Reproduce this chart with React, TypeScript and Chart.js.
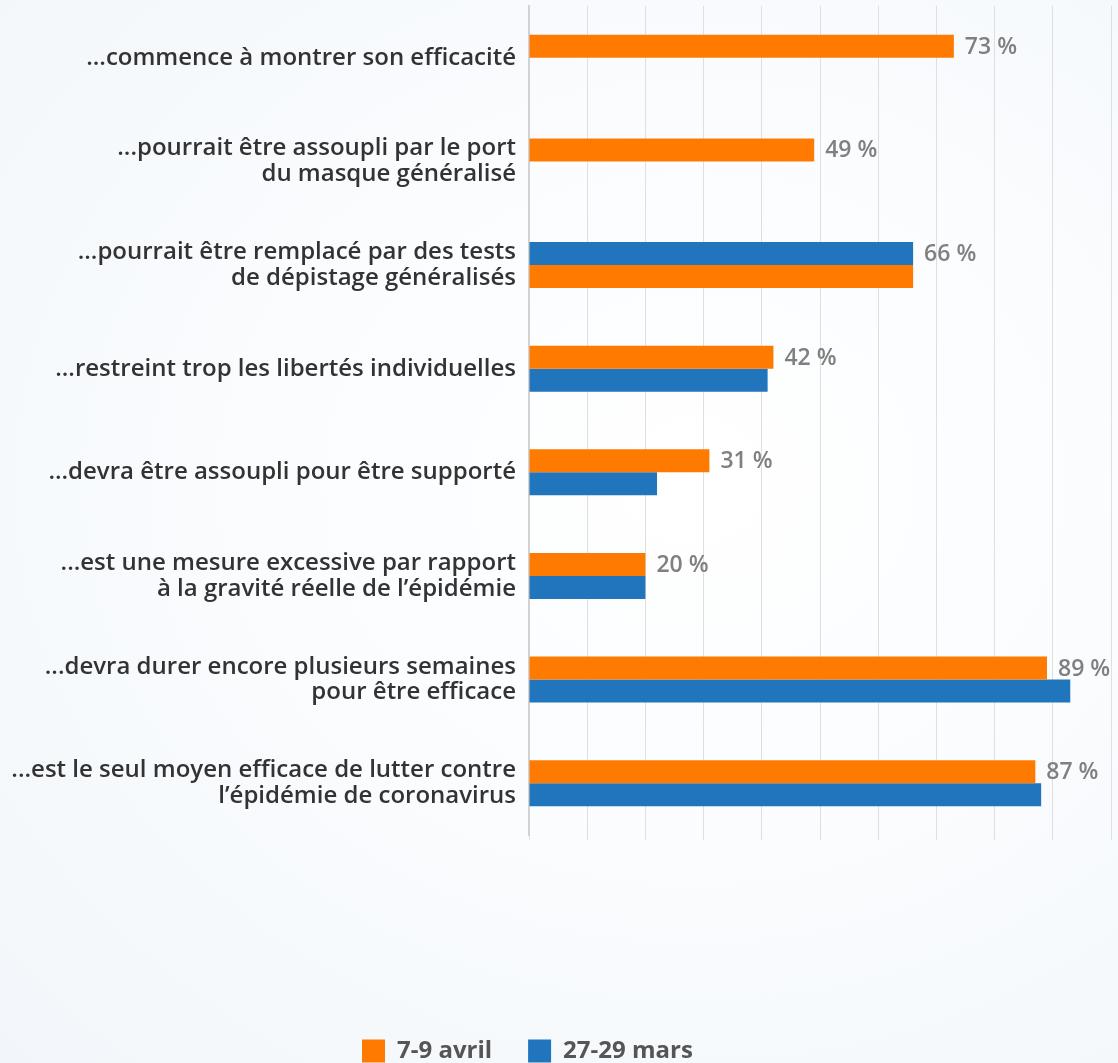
import React, { useEffect, useRef } from "react";
import { Chart, registerables } from "chart.js";

Chart.register(...registerables);

const categories: string[][] = [
  ["...commence à montrer son efficacité"],
  ["...pourrait être assoupli par le port", "du masque généralisé"],
  ["...pourrait être remplacé par des tests", "de dépistage généralisés"],
  ["...restreint trop les libertés individuelles"],
  ["...devra être assoupli pour être supporté"],
  ["...est une mesure excessive par rapport", "à la gravité réelle de l’épidémie"],
  ["...devra durer encore plusieurs semaines", "pour être efficace"],
  ["...est le seul moyen efficace de lutter contre", "l’épidémie de coronavirus"],
];

const seriesAvril = "7-9 avril";
const seriesMars = "27-29 mars";

const avril: (number | null)[] = [73, 49, 66, 42, 31, 20, 89, 87];
const mars: (number | null)[] = [null, null, 66, 41, 22, 20, 93, 88];

// In the source, the third category shows the "mars" bar on top
const topIsMars: boolean[] = [false, false, true, false, false, false, false, false];

const xTicks = { min: 0, max: 100, step: 10 };

const ORANGE = "#FF7A00";
const BLUE = "#2175BD";
const FONT = "'Open Sans', 'Noto Sans', sans-serif";
const LEGEND_X = 362;

const valueLabels = {
  id: "valueLabels",
  afterDatasetsDraw(chart: any) {
    const ctx = chart.ctx;
    const meta = chart.getDatasetMeta(0);
    const data = chart.data.datasets[0].data;
    ctx.save();
    ctx.font = `600 23px ${FONT}`;
    ctx.fillStyle = "#808080";
    ctx.textAlign = "left";
    ctx.textBaseline = "middle";
    meta.data.forEach((bar: any, i: number) => {
      const v = data[i];
      if (v == null) return;
      ctx.fillText(`${v} %`, bar.x + 11, bar.y + 1);
    });
    ctx.restore();
  },
};

const legendShift = {
  id: "legendShift",
  afterLayout(chart: any) {
    const lg = chart.legend;
    if (!lg || !lg.lineWidths) return;
    const p = lg.options.labels.padding;
    const cur = (lg.left + p + lg.right - lg.lineWidths[0]) / 2;
    const dx = LEGEND_X - cur;
    lg.left += dx;
    lg.right += dx;
  },
};

export default function App() {
  const ref = useRef<HTMLCanvasElement | null>(null);

  useEffect(() => {
    if (!ref.current) return;
    const topData = categories.map((_, i) => (topIsMars[i] ? mars[i] : avril[i]));
    const bottomData = categories.map((_, i) => (topIsMars[i] ? avril[i] : mars[i]));
    const topColors = categories.map((_, i) => (topIsMars[i] ? BLUE : ORANGE));
    const bottomColors = categories.map((_, i) => (topIsMars[i] ? ORANGE : BLUE));

    const chart = new Chart(ref.current, {
      type: "bar",
      data: {
        labels: categories,
        datasets: [
          {
            label: seriesAvril,
            data: topData,
            backgroundColor: topColors,
            borderWidth: 0,
            barPercentage: 1,
            categoryPercentage: 0.444,
          },
          {
            label: seriesMars,
            data: bottomData,
            backgroundColor: bottomColors,
            borderWidth: 0,
            barPercentage: 1,
            categoryPercentage: 0.444,
          },
        ],
      },
      options: {
        indexAxis: "y",
        animation: false,
        responsive: false,
        maintainAspectRatio: false,
        layout: { padding: { top: 6, right: 7, left: 0, bottom: 0 } },
        scales: {
          x: {
            min: xTicks.min,
            max: xTicks.max,
            ticks: { display: false, stepSize: xTicks.step },
            grid: { color: "#dfdfdf", lineWidth: 1, tickLength: 5, drawTicks: true },
            border: { display: false },
            afterFit: (scale: any) => {
              scale.height = 168;
            },
          },
          y: {
            grid: { display: false, drawTicks: false },
            border: { display: true, color: "#d2d2d2", width: 2 },
            ticks: {
              color: "#333333",
              padding: 13,
              font: { family: FONT, size: 24, weight: "600", lineHeight: 1.07 },
            },
            afterFit: (scale: any) => {
              scale.width = 529;
              scale.paddingTop = 0;
              scale.paddingBottom = 0;
            },
          },
        },
        plugins: {
          legend: {
            position: "bottom",
            labels: {
              boxWidth: 23,
              boxHeight: 23,
              padding: 36,
              color: "#555555",
              font: { family: FONT, size: 24, weight: "bold" },
            },
          },
          tooltip: { enabled: false },
        },
      },
      plugins: [valueLabels, legendShift],
    } as any);

    return () => chart.destroy();
  }, []);

  return (
    <div
      style={{
        position: "absolute",
        left: 0,
        top: 0,
        width: 1118,
        height: 1073,
        overflow: "hidden",
        background:
          "radial-gradient(ellipse at 62% 45%, #ffffff 0%, #fafcfe 45%, #f2f6fa 100%)",
      }}
    >
      <canvas ref={ref} width={1118} height={1073} style={{ display: "block" }} />
    </div>
  );
}
